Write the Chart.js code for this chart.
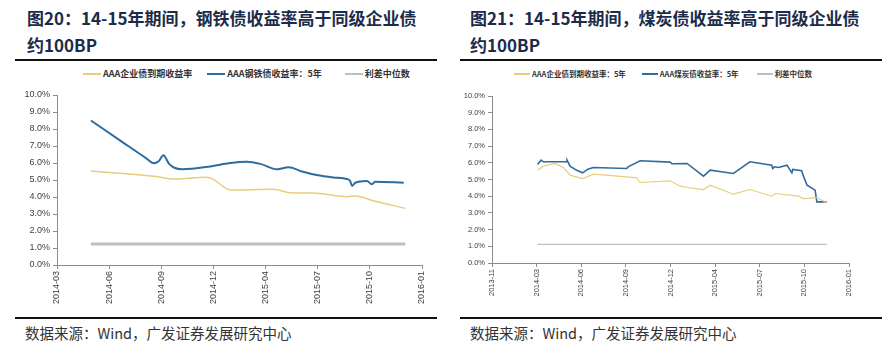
<!DOCTYPE html>
<html>
<head>
<meta charset="utf-8">
<script src="https://cdn.jsdelivr.net/npm/chart.js@4.4.0/dist/chart.umd.min.js"></script>
<style>
  body { margin: 0; background: #fff; width: 894px; height: 353px; overflow: hidden; position: relative;
         font-family: "Noto Sans CJK SC", "Noto Sans", sans-serif; }
  .title { position: absolute; top: 4px; font-weight: bold; font-size: 17px; line-height: 27px; color: #1c2b4a; white-space: nowrap; }
  .rule { position: absolute; height: 2px; background: #111; }
  .legend { position: absolute; display: flex; align-items: center; font-weight: bold; color: #333; white-space: nowrap; }
  .legend .sw { display: inline-block; margin-right: 2px; }
  .src { position: absolute; top: 322px; font-size: 14.5px; color: #333; white-space: nowrap; }
  .box { position: absolute; top: 64px; width: 447px; height: 252px; }
</style>
</head>
<body>

<div class="title" style="left:27px">图20：14-15年期间，钢铁债收益率高于同级企业债<br>约100BP</div>
<div class="title" style="left:470px">图21：14-15年期间，煤炭债收益率高于同级企业债<br>约100BP</div>
<div class="rule" style="left:15px;width:422px;top:59px"></div>
<div class="rule" style="left:460px;width:422px;top:59px"></div>

<div class="legend" id="legendLeft" style="left:83px;top:67px;font-size:9px"></div>
<div class="legend" id="legendRight" style="left:514px;top:68px;font-size:7.5px"></div>

<div class="box" style="left:0"><canvas id="chartLeft"></canvas></div>
<div class="box" style="left:447px"><canvas id="chartRight"></canvas></div>

<div class="rule" style="left:15px;width:422px;top:317px"></div>
<div class="rule" style="left:460px;width:422px;top:317px"></div>
<div class="src" style="left:25px">数据来源：Wind，广发证券发展研究中心</div>
<div class="src" style="left:470px">数据来源：Wind，广发证券发展研究中心</div>

<script>
// ---- left chart: steel ----
const leftTicks = ["2014-03", "2014-06", "2014-09", "2014-12", "2015-04", "2015-07", "2015-10", "2016-01"];
const leftNames = ["AAA企业债到期收益率", "AAA钢铁债收益率：5年", "利差中位数"];

const leftCorpX = [0.65, 1.91, 2.23, 2.87, 3.0, 3.19, 3.32, 4.15, 4.47, 4.98, 5.56, 5.72, 6.07, 6.68];
const leftCorpY = [5.53, 5.20, 5.06, 5.16, 5.04, 4.61, 4.41, 4.45, 4.25, 4.22, 4.02, 4.06, 3.78, 3.33];

const leftSteelX = [0.65, 1.2, 1.7, 1.86, 1.95, 2.04, 2.15, 2.25, 2.4, 2.94, 3.13, 3.32, 3.64, 3.9, 4.22, 4.44,
                    4.7, 4.98, 5.3, 5.56, 5.62, 5.66, 5.72, 5.94, 6.04, 6.10, 6.65];
const leftSteelY = [8.50, 7.35, 6.30, 5.98, 6.10, 6.45, 5.95, 5.72, 5.63, 5.80, 5.90, 6.00, 6.08, 5.95, 5.63, 5.75,
                    5.50, 5.29, 5.15, 5.06, 4.95, 4.65, 4.84, 4.94, 4.75, 4.90, 4.84];

const leftSpreadX = [0.65, 6.68];
const leftSpreadY = [1.24, 1.24];

// ---- right chart: coal ----
const rightTicks = ["2013-11", "2014-03", "2014-06", "2014-09", "2014-12", "2015-04", "2015-07", "2015-10", "2016-01"];
const rightNames = ["AAA企业债到期收益率：5年", "AAA煤炭债收益率：5年", "利差中位数"];

const rightCorpX = [1.02, 1.15, 1.41, 1.60, 1.75, 2.03, 2.27, 3.02, 3.24, 3.32, 3.99, 4.22, 4.37, 4.74, 4.89,
                    5.41, 5.78, 6.27, 6.35, 6.87, 6.98, 7.28, 7.50];
const rightCorpY = [5.56, 5.80, 5.96, 5.72, 5.26, 5.06, 5.32, 5.16, 5.10, 4.82, 4.92, 4.60, 4.52, 4.40, 4.66,
                    4.12, 4.40, 4.00, 4.16, 4.00, 3.86, 3.92, 3.60];

const rightCoalX = [1.02, 1.10, 1.15, 1.67, 1.68, 1.75, 1.9, 2.03, 2.15, 2.27, 3.02, 3.05, 3.32, 3.99, 4.03, 4.37,
                    4.74, 4.89, 5.41, 5.78, 6.27, 6.29, 6.33, 6.42, 6.61, 6.72, 6.74, 6.94, 6.98, 7.06, 7.24,
                    7.28, 7.50];
const rightCoalY = [5.90, 6.16, 6.06, 6.06, 6.16, 5.80, 5.55, 5.40, 5.62, 5.72, 5.66, 5.76, 6.12, 6.04, 5.94, 5.96,
                    5.20, 5.56, 5.36, 6.06, 5.86, 5.66, 5.76, 5.72, 5.86, 5.40, 5.60, 5.52, 5.20, 4.66, 4.36,
                    3.66, 3.66];

const rightSpreadX = [1.02, 7.50];
const rightSpreadY = [1.12, 1.12];

const colors = { corp: "#e8cd7c", steel: "#2f6c9e", spread: "#bfbfbf" };

function pts(xs, ys) {
  return xs.map((x, i) => ({ x: x, y: ys[i] }));
}

function buildLegend(id, names, swatch, gaps) {
  const keys = ["corp", "steel", "spread"];
  document.getElementById(id).innerHTML = names
    .map((n, i) => `<span style="display:flex;align-items:center;margin-right:${gaps[i]}px">
        <span class="sw" style="width:${swatch}px;height:2px;background:${colors[keys[i]]}"></span>${n}</span>`)
    .join("");
}

function makeChart(canvasId, cfg) {
  const axisColor = "#8c8c8c";
  const ctx = document.getElementById(canvasId).getContext("2d");
  return new Chart(ctx, {
    type: "line",
    data: {
      datasets: [
        { data: pts(cfg.corpX, cfg.corpY), borderColor: colors.corp, borderWidth: cfg.lw[0], tension: cfg.tension, cubicInterpolationMode: cfg.mode },
        { data: pts(cfg.mainX, cfg.mainY), borderColor: colors.steel, borderWidth: cfg.lw[1], tension: cfg.tension, cubicInterpolationMode: cfg.mode },
        { data: pts(cfg.spreadX, cfg.spreadY), borderColor: colors.spread, borderWidth: cfg.lw[2], tension: 0 },
      ],
    },
    options: {
      responsive: true,
      maintainAspectRatio: false,
      animation: false,
      elements: { point: { radius: 0 } },
      layout: { padding: { top: cfg.top, right: cfg.right, left: 0, bottom: 0 } },
      plugins: { legend: { display: false }, tooltip: { enabled: false } },
      scales: {
        x: {
          type: "linear",
          min: 0,
          max: cfg.ticks.length - 1,
          afterFit: (s) => { s.height = cfg.xh; },
          border: { color: axisColor, width: 1 },
          grid: { drawOnChartArea: false, drawTicks: true, tickLength: 4, color: axisColor },
          ticks: {
            stepSize: 1,
            autoSkip: false,
            minRotation: 90,
            maxRotation: 90,
            padding: 2,
            color: "#404040",
            font: { family: "'Liberation Sans', Arial, sans-serif", size: cfg.fs },
            callback: (v) => cfg.ticks[v],
          },
        },
        y: {
          min: 0,
          max: 10,
          afterFit: (s) => { s.width = cfg.yw; },
          border: { color: axisColor, width: 1 },
          grid: { drawOnChartArea: false, drawTicks: true, tickLength: 4, color: axisColor },
          ticks: {
            stepSize: 1,
            padding: 3,
            color: "#404040",
            font: { family: "'Liberation Sans', Arial, sans-serif", size: cfg.fs },
            callback: (v) => v.toFixed(1) + "%",
          },
        },
      },
    },
  });
}

buildLegend("legendLeft", leftNames, 18, [15, 23, 0]);
buildLegend("legendRight", rightNames, 16, [16, 18, 0]);

makeChart("chartLeft", {
  ticks: leftTicks,
  corpX: leftCorpX, corpY: leftCorpY,
  mainX: leftSteelX, mainY: leftSteelY,
  spreadX: leftSpreadX, spreadY: leftSpreadY,
  lw: [1.5, 2, 3], tension: 0.4, mode: "monotone",
  top: 31, right: 25, xh: 51, yw: 57, fs: 9,
});

makeChart("chartRight", {
  ticks: rightTicks,
  corpX: rightCorpX, corpY: rightCorpY,
  mainX: rightCoalX, mainY: rightCoalY,
  spreadX: rightSpreadX, spreadY: rightSpreadY,
  lw: [1.2, 1.6, 1.2], tension: 0, mode: "default",
  top: 32, right: 45, xh: 53, yw: 45, fs: 7.5,
});
</script>
</body>
</html>
